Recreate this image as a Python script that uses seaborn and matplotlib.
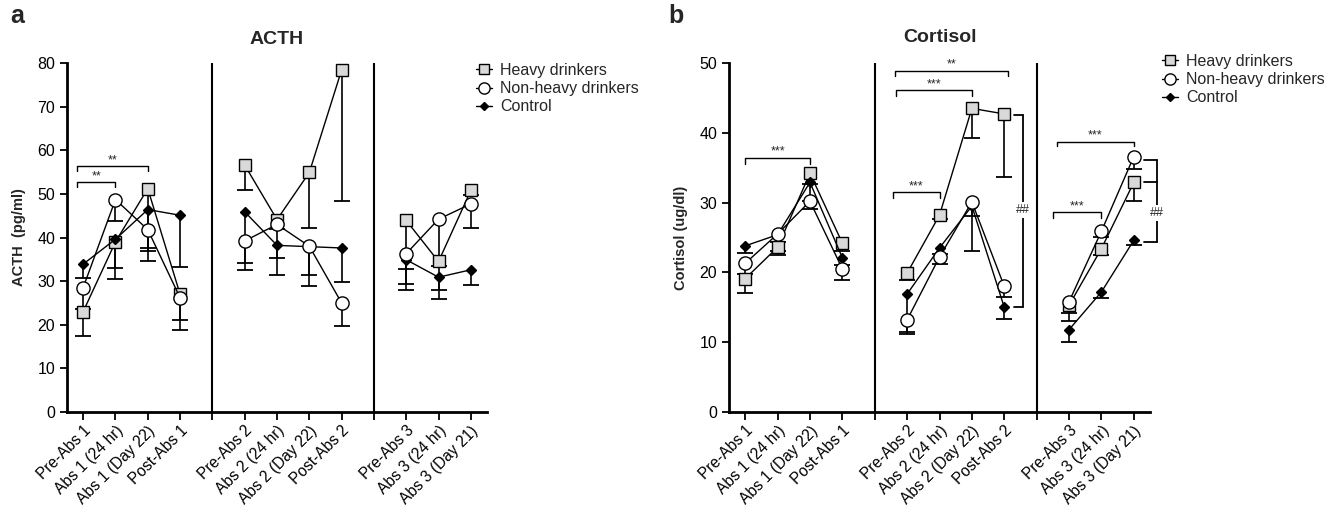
import numpy as np
import pandas as pd
import matplotlib
matplotlib.use("Agg")
import matplotlib.pyplot as plt
from matplotlib.lines import Line2D
import seaborn as sns

# time points, three abstinence blocks
labels = ["Pre-Abs 1", "Abs 1 (24 hr)", "Abs 1 (Day 22)", "Post-Abs 1",
          "Pre-Abs 2", "Abs 2 (24 hr)", "Abs 2 (Day 22)", "Post-Abs 2",
          "Pre-Abs 3", "Abs 3 (24 hr)", "Abs 3 (Day 21)"]
sections = [1, 1, 1, 1, 2, 2, 2, 2, 3, 3, 3]
groups = ["Heavy drinkers", "Non-heavy drinkers", "Control"]

# ACTH (pg/ml), mean and lower SEM
acth_heavy = [23.0, 39.0, 51.2, 27.0, 56.6, 44.1, 54.9, 78.4, 43.9, 34.5, 50.8]
acth_heavy_err = [5.5, 8.5, 13.6, 5.9, 5.6, 12.8, 12.7, 30.0, 11.1, 1.0, 1.0]
acth_nonheavy = [28.5, 48.7, 41.8, 26.2, 39.2, 43.0, 38.0, 25.0, 36.3, 44.2, 47.7]
acth_nonheavy_err = [5.0, 5.0, 7.2, 7.3, 5.0, 1.0, 6.5, 5.2, 6.9, 16.3, 5.5]
acth_control = [33.9, 39.6, 46.4, 45.1, 45.9, 38.2, 37.9, 37.6, 34.9, 30.9, 32.6]
acth_control_err = [3.1, 6.5, 9.4, 11.9, 13.3, 2.9, 9.1, 7.7, 6.9, 4.9, 3.4]

# Cortisol (ug/dl), mean and lower SEM
cort_heavy = [19.1, 23.6, 34.2, 24.2, 19.9, 28.2, 43.5, 42.7, 15.3, 23.4, 32.9]
cort_heavy_err = [2.1, 1.1, 1.5, 1.1, 1.0, 0.6, 4.3, 9.1, 2.3, 0.9, 2.7]
cort_nonheavy = [21.3, 25.5, 30.2, 20.5, 13.2, 22.2, 30.1, 18.0, 15.8, 25.9, 36.6]
cort_nonheavy_err = [1.5, 2.5, 1.1, 1.6, 1.7, 1.0, 2.0, 1.5, 1.6, 0.8, 1.8]
cort_control = [23.8, 25.4, 32.9, 22.1, 16.9, 23.5, 29.5, 15.0, 11.8, 17.2, 24.6]
cort_control_err = [1.0, 1.0, 2.7, 1.0, 5.7, 0.8, 6.5, 1.7, 1.7, 0.9, 0.7]

sns.set_style("ticks")
plt.rcParams["font.family"] = ["Liberation Sans", "DejaVu Sans"]

pos = [i + s - 1 for i, s in enumerate(sections)]
tick_pos = list(range(13))
tick_lab = []
for t in tick_pos:
    tick_lab.append(labels[pos.index(t)] if t in pos else "")

styles = {
    "Heavy drinkers": dict(marker="s", markersize=8, markerfacecolor="#d9d9d9"),
    "Non-heavy drinkers": dict(marker="o", markersize=9.5, markerfacecolor="white"),
    "Control": dict(marker="D", markersize=5, markerfacecolor="black"),
}


def make_df(vals, errs):
    rows = []
    for g, v, e in zip(groups, vals, errs):
        for p, s, y, er in zip(pos, sections, v, e):
            rows.append(dict(group=g, pos=p, section=s, value=y, err=er))
    return pd.DataFrame(rows)


def draw_panel(ax, df, ymax, ylabel):
    for g in ["Heavy drinkers", "Control", "Non-heavy drinkers"]:
        d = df[df.group == g]
        eb = ax.errorbar(d.pos, d.value, yerr=[d.err, np.zeros(len(d))], fmt="none",
                         ecolor="black", elinewidth=1.2, capsize=6, capthick=1.3, zorder=2)
        eb[1][1].set_visible(False)
        sns.lineplot(data=d, x="pos", y="value", units="section", estimator=None,
                     color="black", linewidth=1, markeredgecolor="black",
                     markeredgewidth=1, ax=ax, legend=False, zorder=3, **styles[g])
    for xv in [4, 9]:
        ax.axvline(xv, color="black", lw=1.5, zorder=1)
    ax.set_xlim(-0.5, 12.5)
    ax.set_ylim(0, ymax)
    ax.set_yticks(range(0, ymax + 1, 10))
    ax.set_xticks(tick_pos)
    ax.set_xticklabels(tick_lab, rotation=45, ha="right", rotation_mode="anchor", fontsize=11.2)
    ax.tick_params(axis="y", labelsize=11.5, width=1.3, length=5, colors="black")
    ax.tick_params(axis="x", width=1.3, length=6, pad=2, colors="black")
    ax.set_xlabel("")
    ax.set_ylabel(ylabel, fontsize=10.5, fontweight="bold", labelpad=8)
    for sp in ["top", "right"]:
        ax.spines[sp].set_visible(False)
    for sp in ["left", "bottom"]:
        ax.spines[sp].set_linewidth(2)
        ax.spines[sp].set_color("black")


def bracket(ax, x0, x1, y, h, txt, fs=9):
    ax.plot([x0, x0, x1, x1], [y - h, y, y, y - h], color="black", lw=1, clip_on=False)
    ax.text((x0 + x1) / 2, y, txt, ha="center", va="bottom", fontsize=fs)


def vbracket(ax, x, ys, w, txt, ytxt):
    ax.plot([x, x], [min(ys), max(ys)], color="black", lw=1.3, clip_on=False)
    for yy in ys:
        ax.plot([x - w, x], [yy, yy], color="black", lw=1.3, clip_on=False)
    ax.text(x, ytxt, txt, ha="center", va="center", fontsize=9,
            bbox=dict(facecolor="white", edgecolor="none", pad=1.5), clip_on=False)


fig = plt.figure(figsize=(13.36, 5.07), dpi=100)
ax1 = fig.add_axes([67 / 1336, 95 / 507, 420 / 1336, 349 / 507])
ax2 = fig.add_axes([729 / 1336, 95 / 507, 421 / 1336, 349 / 507])

df_a = make_df([acth_heavy, acth_nonheavy, acth_control],
               [acth_heavy_err, acth_nonheavy_err, acth_control_err])
df_b = make_df([cort_heavy, cort_nonheavy, cort_control],
               [cort_heavy_err, cort_nonheavy_err, cort_control_err])

draw_panel(ax1, df_a, 80, "ACTH  (pg/ml)")
draw_panel(ax2, df_b, 50, "Cortisol (ug/dl)")

# significance marks
bracket(ax1, -0.18, 1, 52.7, 1.2, "**")
bracket(ax1, -0.18, 2, 56.4, 1.2, "**")
bracket(ax2, 0, 2, 36.4, 0.9, "***")
bracket(ax2, 4.62, 8.1, 48.9, 0.8, "**")
bracket(ax2, 4.65, 7, 46.1, 0.8, "***")
bracket(ax2, 4.55, 6, 31.5, 0.8, "***")
bracket(ax2, 9.62, 12, 38.7, 0.6, "***")
bracket(ax2, 9.5, 11, 28.6, 0.8, "***")
vbracket(ax2, 8.58, [42.6, 15.0], 0.27, "##", 28.9)
vbracket(ax2, 12.72, [36.1, 33.0, 24.4], 0.4, "##", 28.5)

# legends
handles = [Line2D([], [], color="black", lw=1, markeredgecolor="black",
                  markeredgewidth=1, **{k: (v * 0.85 if k == "markersize" else v)
                                         for k, v in styles[g].items()}) for g in groups]
for ax, bx, by in [(ax1, 476, 63), (ax2, 1162, 54)]:
    ax.legend(handles, groups, loc="upper left", bbox_to_anchor=(bx / 1336, 1 - by / 507),
              bbox_transform=fig.transFigure, frameon=False, fontsize=11.5,
              handlelength=1.0, handletextpad=0.5, labelspacing=0.2, borderpad=0,
              borderaxespad=0)

fig.text(277 / 1336, 1 - 39.5 / 507, "ACTH", ha="center", va="center", fontsize=14, fontweight="bold")
fig.text(940 / 1336, 1 - 37.5 / 507, "Cortisol", ha="center", va="center", fontsize=14, fontweight="bold")
fig.text(10 / 1336, 1 - 16 / 507, "a", ha="left", va="center", fontsize=18, fontweight="bold")
fig.text(668 / 1336, 1 - 16 / 507, "b", ha="left", va="center", fontsize=18, fontweight="bold")

fig.savefig("out.png", dpi=100)
